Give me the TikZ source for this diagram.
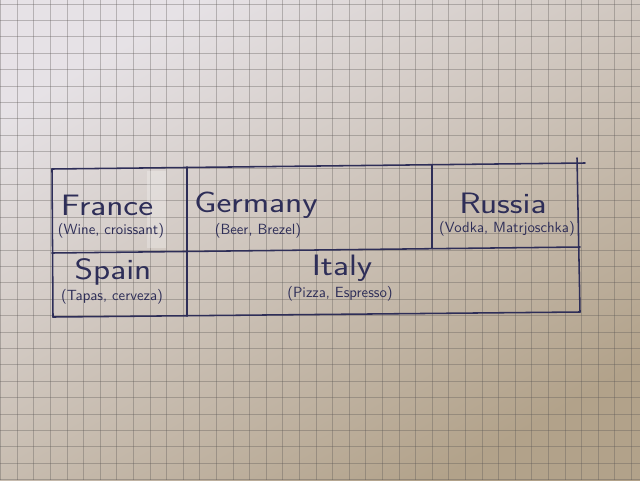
\documentclass[tikz,border=0pt]{standalone}
\usepackage{xcolor}
\usepackage{tikz}
\usetikzlibrary{positioning, calc}
\definecolor{ink}{HTML}{2E2E58}
\definecolor{paperTop}{HTML}{E6E2E6}
\definecolor{paperMid}{HTML}{D0C4B6}
\definecolor{paperBot}{HTML}{B2A28A}
\definecolor{gridline}{HTML}{5A5654}
\tikzset{
  gridrule/.style  = {draw=gridline, line width=0.55pt, opacity=0.35},
  tableline/.style = {draw=ink, line width=1.1pt, line cap=round},
  country/.style   = {text=ink, font=\sffamily\fontsize{21}{25}\selectfont, inner sep=0pt, xscale=1.2},
  goods/.style     = {text=ink, font=\sffamily\fontsize{10.5}{12}\selectfont, inner sep=0pt},
  tapestrip/.style = {fill=white, opacity=0.25, draw=none}
}
\begin{document}
\begin{tikzpicture}[x=0.25mm, y=-0.25mm]

    % ── Paper ─────────────────────────────────────────────────────────────
    \useasboundingbox (0,0) rectangle (640,480);
    \shade[top color=paperTop, middle color=paperMid, bottom color=paperBot, shading angle=30]
      (0,0) rectangle (640,480);

    % ── Squared grid ──────────────────────────────────────────────────────
    \foreach \gx in {0,...,38}
      \draw[gridrule] ({0.5+\gx*16.6},0) -- ({0.5+\gx*16.6},480);
    \foreach \gy in {0,...,29}
      \draw[gridrule] (0,{4+\gy*16.4}) -- (640,{4+\gy*16.4});

    % ── Tape strip ────────────────────────────────────────────────────────
    \fill[tapestrip] (147,171) rectangle (166,248);

    % ── Table corners ─────────────────────────────────────────────────────
    \coordinate (tl) at (52,169);
    \coordinate (tr) at (585,163);
    \coordinate (ml) at (52,253);
    \coordinate (mr) at (580,247);
    \coordinate (bl) at (53,317);
    \coordinate (br) at (580,312);
    \coordinate (rtop) at (577,158);
    \coordinate (aTop) at (187,167);
    \coordinate (aBot) at (187,316);
    \coordinate (bTop) at (432,165);
    \coordinate (bBot) at (432,248);

    % ── Table lines ───────────────────────────────────────────────────────
    \draw[tableline] (tl) -- (tr);
    \draw[tableline] (ml) -- (mr);
    \draw[tableline] (bl) -- (br);
    \draw[tableline] (tl) -- (bl);
    \draw[tableline] (rtop) -- (br);
    \draw[tableline] (aTop) -- (aBot);
    \draw[tableline] (bTop) -- (bBot);

    % ── Top row ───────────────────────────────────────────────────────────
    \node[country] (france)  at (107,205) {France};
    \node[goods]   (franceG) at (111,231) {(Wine, croissant)};

    \node[country] (germany)  at (256,205) {Germany};
    \node[goods]   (germanyG) at (258,231) {(Beer, Brezel)};

    \node[country] (russia)  at (503,203) {Russia};
    \node[goods]   (russiaG) at (507,229) {(Vodka, Matrjoschka)};

    % ── Bottom row ────────────────────────────────────────────────────────
    \node[country] (spain)  at (113,272) {Spain};
    \node[goods]   (spainG) at (112,297) {(Tapas, cerveza)};

    \node[country] (italy)  at (342,268) {Italy};
    \node[goods]   (italyG) at (340,294) {(Pizza, Espresso)};

\end{tikzpicture}
\end{document}
